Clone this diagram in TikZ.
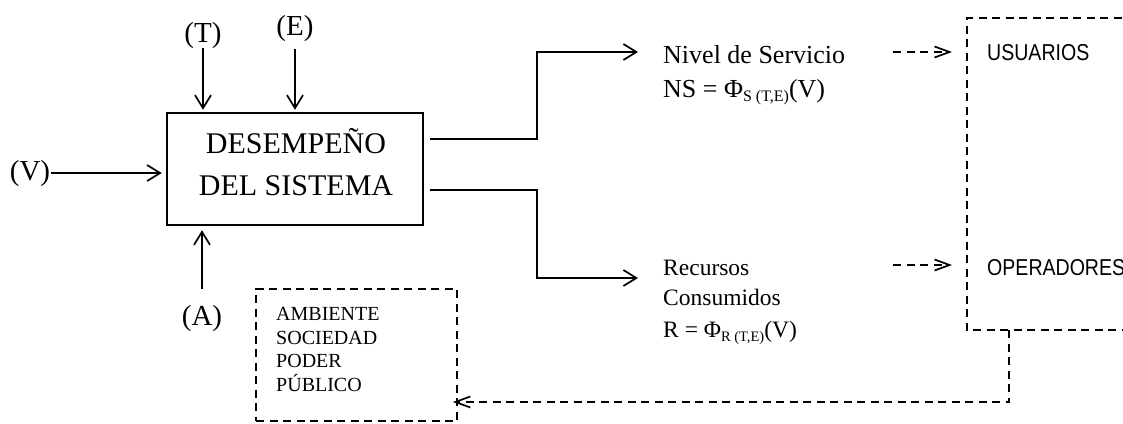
\documentclass[tikz,border=0pt]{standalone}
\usepackage{fontspec}
\setmainfont{Liberation Serif}
\newfontfamily\narrowsans[FakeStretch=0.85]{Liberation Sans}
\usetikzlibrary{arrows.meta}
\begin{document}
\begin{tikzpicture}[x=1pt,y=-1pt,
  arr/.style={line width=1.7pt,-{Straight Barb[length=13pt,width=16pt,line width=1.7pt]}},
  darr/.style={line width=1.7pt,dash pattern=on 8pt off 5.5pt,-{Straight Barb[length=15pt,width=11pt,line width=1.7pt]}},
  dline/.style={line width=1.7pt,dash pattern=on 8pt off 5.5pt},
  lbl/.style={inner sep=0pt,font=\fontsize{29}{34}\selectfont},
  big/.style={inner sep=0pt,font=\fontsize{30}{36}\selectfont},
  txtA/.style={inner sep=0pt,anchor=base west,font=\fontsize{26}{30}\selectfont},
  txtB/.style={inner sep=0pt,anchor=base west,font=\fontsize{23.5}{28}\selectfont},
  txtC/.style={inner sep=0pt,anchor=base west,font=\fontsize{20}{24}\selectfont},
  sans/.style={inner sep=0pt,anchor=base west,font=\narrowsans\fontsize{23}{28}\selectfont},
  ]
\useasboundingbox (0,0) rectangle (1123,423);

% main system box
\node[draw,line width=2.5pt,minimum width=256pt,minimum height=112pt,inner sep=0pt] (sys) at (295,169) {};
\node[big,anchor=base] (sys1) at (296,153) {DESEMPEÑO};
\node[big,anchor=base] (sys2) at (296,195) {DEL SISTEMA};

% inputs
\node[lbl,anchor=base] (T) at (203,42) {(T)};
\node[lbl,anchor=base] (E) at (295,35) {(E)};
\node[lbl,anchor=base] (V) at (30,180) {(V)};
\node[lbl,anchor=base] (A) at (202,325) {(A)};

\draw[arr,shorten >=2pt] (T.south) -- (T.south |- sys.north);
\draw[arr,shorten <=8pt,shorten >=2pt] (E.south) -- (E.south |- sys.north);
\draw[arr,shorten <=1pt,shorten >=4pt] (V.east) -- (V.east -| sys.west);
\draw[arr,shorten >=4pt] ([yshift=16pt]A.north) -- (A.north |- sys.south);

% outputs text
\node[txtA] (ns1) at (663,63) {Nivel de Servicio};
\node[txtA] (ns2) at (663,97) {NS = Φ\raisebox{-4.5pt}{\fontsize{16}{16}\selectfont S (T,E)}(V)};
\node[txtB] (rc1) at (663,275) {Recursos};
\node[txtB] (rc2) at (663,305) {Consumidos};
\node[txtB] (rc3) at (663,337) {R = Φ\raisebox{-4pt}{\fontsize{14.5}{15}\selectfont R (T,E)}(V)};

\coordinate (nsin) at (638,52);
\coordinate (rcin) at (638,278);
\draw[arr] ([shift={(6,-30)}]sys.east) -| (537,52) -- (nsin);
\draw[arr] ([shift={(6,21)}]sys.east) -| (537,278) -- (rcin);

% actors box
\draw[dline] (1135,18) -- (967,18) -- (967,330) -- (1135,330);
\node[sans] (usr) at (987,60) {USUARIOS};
\node[sans] (ope) at (987,275) {OPERADORES};

\coordinate (d1) at (893,52);
\coordinate (d2) at (893,265);
\draw[darr] (d1) -- (952,52);
\draw[darr] (d2) -- (952,265);

% environment box
\node[draw,dline,minimum width=201pt,minimum height=132pt,inner sep=0pt] (amb) at (356.5,355) {};
\node[txtC] (amb1) at (276,320) {AMBIENTE};
\node[txtC] (amb2) at (276,344) {SOCIEDAD};
\node[txtC] (amb3) at (276,367) {PODER};
\node[txtC] (amb4) at (276,391) {PÚBLICO};

\coordinate (fb) at (1009,330);
\draw[darr,shorten >=-5pt] (fb) -- (1009,402) -- (amb.east |- 0,402);
\end{tikzpicture}
\end{document}
